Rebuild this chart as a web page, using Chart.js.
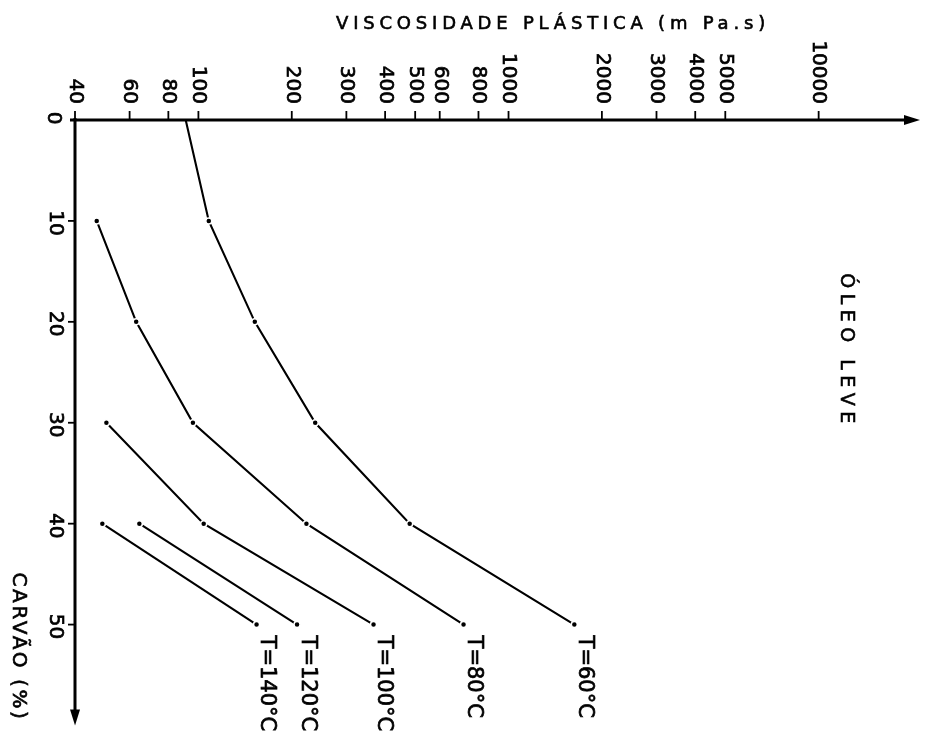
<!DOCTYPE html>
<html lang="pt">
<head>
<meta charset="UTF-8">
<title>Viscosidade plástica - óleo leve</title>
<script src="https://cdn.jsdelivr.net/npm/chart.js@4"></script>
<style>
    body { margin: 0; background: #fff; }
    .chart-container { position: relative; width: 926px; height: 731px; }
</style>
</head>
<body>
<div class="chart-container"><canvas id="viscChart"></canvas></div>
<script>
// viscosidade plástica (mPa.s) por teor de carvão (%), uma curva por temperatura
const carvao60 = [0, 10, 20, 30, 40, 50];
const visc60 = [91, 108, 152, 238, 480, 1630];
const carvao80 = [10, 20, 30, 40, 50];
const visc80 = [47, 63, 96, 223, 716];
const carvao100 = [30, 40, 50];
const visc100 = [50.5, 104, 367];
const carvao120 = [40, 50];
const visc120 = [64.5, 208];
const carvao140 = [40, 50];
const visc140 = [49, 154];
const curveLabels = ['T=60°C', 'T=80°C', 'T=100°C', 'T=120°C', 'T=140°C'];
const viscTicks = [40, 60, 80, 100, 200, 300, 400, 500, 600, 800, 1000, 2000, 3000, 4000, 5000, 10000];
const carvaoTicks = [0, 10, 20, 30, 40, 50];

const FONT = '"DejaVu Sans", sans-serif';

function points(carvao, visc) {
    return carvao.map((c, i) => ({ x: visc[i], y: c }));
}

function curve(label, carvao, visc, radius) {
    return {
        label: label,
        data: points(carvao, visc),
        showLine: true,
        borderColor: '#000',
        borderWidth: 2.1,
        pointRadius: radius || 3,
        pointBackgroundColor: '#000',
        pointBorderColor: '#fff',
        pointBorderWidth: 1.5
    };
}

// texto um pouco mais grosso, como letreiro a normógrafo
function heavyText(ctx, text, x, y) {
    ctx.fillText(text, x, y);
    ctx.strokeText(text, x, y);
}

// eixos com setas, marcas, rótulos girados e textos
const axesPlugin = {
    id: 'axesPlugin',
    afterDraw(chart) {
        const ctx = chart.ctx;
        const xs = chart.scales.x, ys = chart.scales.y;
        const x0 = xs.getPixelForValue(40);
        const y0 = ys.getPixelForValue(0);
        const xEnd = 920, yEnd = ys.bottom;

        ctx.save();
        ctx.strokeStyle = '#000';
        ctx.fillStyle = '#000';
        ctx.lineWidth = 3;
        ctx.beginPath();
        ctx.moveTo(70, y0);
        ctx.lineTo(xEnd - 12, y0);
        ctx.moveTo(x0, y0 - 2);
        ctx.lineTo(x0, yEnd - 12);
        ctx.stroke();

        // setas
        ctx.beginPath();
        ctx.moveTo(xEnd, y0);
        ctx.lineTo(xEnd - 16, y0 - 5);
        ctx.lineTo(xEnd - 16, y0 + 5);
        ctx.closePath();
        ctx.fill();
        ctx.beginPath();
        ctx.moveTo(x0, yEnd);
        ctx.lineTo(x0 - 5, yEnd - 16);
        ctx.lineTo(x0 + 5, yEnd - 16);
        ctx.closePath();
        ctx.fill();

        // marcas e rótulos do eixo de viscosidade
        ctx.font = '20px ' + FONT;
        viscTicks.forEach(v => {
            const px = xs.getPixelForValue(v);
            ctx.lineWidth = 1.8;
            ctx.beginPath();
            ctx.moveTo(px, y0);
            ctx.lineTo(px, y0 - 9);
            ctx.stroke();
            ctx.save();
            ctx.lineWidth = 0.7;
            ctx.translate(px, y0 - 16);
            ctx.rotate(Math.PI / 2);
            ctx.textAlign = 'right';
            ctx.textBaseline = 'middle';
            heavyText(ctx, String(v), 0, 0);
            ctx.restore();
        });

        // marcas e rótulos do eixo de carvão
        carvaoTicks.forEach(c => {
            const py = ys.getPixelForValue(c);
            if (c > 0) {
                ctx.lineWidth = 1.8;
                ctx.beginPath();
                ctx.moveTo(x0, py);
                ctx.lineTo(x0 - 7, py);
                ctx.stroke();
            }
            ctx.save();
            ctx.lineWidth = 0.7;
            ctx.translate(c === 0 ? 53 : 55, c === 0 ? py - 2 : py + 2);
            ctx.rotate(Math.PI / 2);
            ctx.textAlign = 'center';
            ctx.textBaseline = 'middle';
            heavyText(ctx, String(c), 0, 0);
            ctx.restore();
        });

        // rótulos das curvas no último ponto
        ctx.font = '21px ' + FONT;
        chart.data.datasets.forEach((ds, i) => {
            const last = ds.data[ds.data.length - 1];
            const px = xs.getPixelForValue(last.x);
            const py = ys.getPixelForValue(last.y);
            ctx.save();
            ctx.lineWidth = 0.7;
            ctx.translate(px + 10, py + 11);
            ctx.rotate(Math.PI / 2);
            ctx.textAlign = 'left';
            ctx.textBaseline = 'middle';
            heavyText(ctx, curveLabels[i], 0, 0);
            ctx.restore();
        });

        // títulos
        ctx.lineWidth = 0.6;
        ctx.textAlign = 'center';
        ctx.textBaseline = 'middle';
        ctx.font = '18px ' + FONT;
        ctx.letterSpacing = '4.8px';
        heavyText(ctx, 'VISCOSIDADE PLÁSTICA (m Pa.s)', 553, 24);

        ctx.save();
        ctx.translate(18, 647);
        ctx.rotate(Math.PI / 2);
        ctx.font = '20px ' + FONT;
        ctx.letterSpacing = '2.6px';
        heavyText(ctx, 'CARVÃO (%)', 0, 0);
        ctx.restore();

        ctx.save();
        ctx.translate(846, 351);
        ctx.rotate(Math.PI / 2);
        ctx.font = '19px ' + FONT;
        ctx.letterSpacing = '5.5px';
        heavyText(ctx, 'ÓLEO LEVE', 0, 0);
        ctx.restore();
        ctx.restore();
    }
};

const ctx = document.getElementById('viscChart').getContext('2d');
const chart = new Chart(ctx, {
    type: 'scatter',
    data: {
        datasets: [
            curve(curveLabels[0], carvao60, visc60, [0, 3, 3, 3, 3, 3]),
            curve(curveLabels[1], carvao80, visc80),
            curve(curveLabels[2], carvao100, visc100),
            curve(curveLabels[3], carvao120, visc120),
            curve(curveLabels[4], carvao140, visc140)
        ]
    },
    options: {
        responsive: true,
        maintainAspectRatio: false,
        animation: false,
        layout: { padding: { left: 75, top: 120, right: 14, bottom: 5 } },
        scales: {
            x: { type: 'logarithmic', min: 40, max: 20000, display: false },
            y: { type: 'linear', min: 0, max: 60, reverse: true, display: false }
        },
        plugins: {
            legend: { display: false },
            tooltip: { enabled: false }
        }
    },
    plugins: [axesPlugin]
});
</script>
</body>
</html>
